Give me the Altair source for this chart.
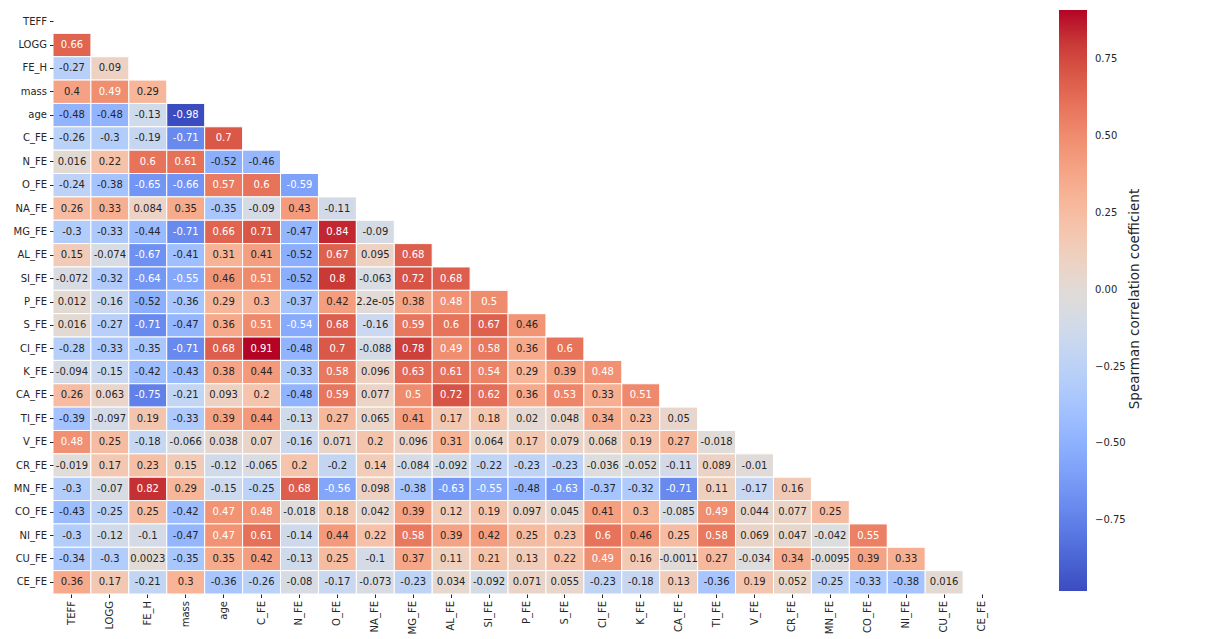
import altair as alt
import pandas as pd
import numpy as np

names = ["TEFF", "LOGG", "FE_H", "mass", "age", "C_FE", "N_FE", "O_FE", "NA_FE",
         "MG_FE", "AL_FE", "SI_FE", "P_FE", "S_FE", "CI_FE", "K_FE", "CA_FE",
         "TI_FE", "V_FE", "CR_FE", "MN_FE", "CO_FE", "NI_FE", "CU_FE", "CE_FE"]

# lower triangle (row i has i values: columns 0..i-1)
lower = [
    [],
    [0.66],
    [-0.27, 0.09],
    [0.4, 0.49, 0.29],
    [-0.48, -0.48, -0.13, -0.98],
    [-0.26, -0.3, -0.19, -0.71, 0.7],
    [0.016, 0.22, 0.6, 0.61, -0.52, -0.46],
    [-0.24, -0.38, -0.65, -0.66, 0.57, 0.6, -0.59],
    [0.26, 0.33, 0.084, 0.35, -0.35, -0.09, 0.43, -0.11],
    [-0.3, -0.33, -0.44, -0.71, 0.66, 0.71, -0.47, 0.84, -0.09],
    [0.15, -0.074, -0.67, -0.41, 0.31, 0.41, -0.52, 0.67, 0.095, 0.68],
    [-0.072, -0.32, -0.64, -0.55, 0.46, 0.51, -0.52, 0.8, -0.063, 0.72, 0.68],
    [0.012, -0.16, -0.52, -0.36, 0.29, 0.3, -0.37, 0.42, 2.2e-05, 0.38, 0.48, 0.5],
    [0.016, -0.27, -0.71, -0.47, 0.36, 0.51, -0.54, 0.68, -0.16, 0.59, 0.6, 0.67, 0.46],
    [-0.28, -0.33, -0.35, -0.71, 0.68, 0.91, -0.48, 0.7, -0.088, 0.78, 0.49, 0.58, 0.36, 0.6],
    [-0.094, -0.15, -0.42, -0.43, 0.38, 0.44, -0.33, 0.58, 0.096, 0.63, 0.61, 0.54, 0.29, 0.39, 0.48],
    [0.26, 0.063, -0.75, -0.21, 0.093, 0.2, -0.48, 0.59, 0.077, 0.5, 0.72, 0.62, 0.36, 0.53, 0.33, 0.51],
    [-0.39, -0.097, 0.19, -0.33, 0.39, 0.44, -0.13, 0.27, 0.065, 0.41, 0.17, 0.18, 0.02, 0.048, 0.34, 0.23, 0.05],
    [0.48, 0.25, -0.18, -0.066, 0.038, 0.07, -0.16, 0.071, 0.2, 0.096, 0.31, 0.064, 0.17, 0.079, 0.068, 0.19, 0.27, -0.018],
    [-0.019, 0.17, 0.23, 0.15, -0.12, -0.065, 0.2, -0.2, 0.14, -0.084, -0.092, -0.22, -0.23, -0.23, -0.036, -0.052, -0.11, 0.089, -0.01],
    [-0.3, -0.07, 0.82, 0.29, -0.15, -0.25, 0.68, -0.56, 0.098, -0.38, -0.63, -0.55, -0.48, -0.63, -0.37, -0.32, -0.71, 0.11, -0.17, 0.16],
    [-0.43, -0.25, 0.25, -0.42, 0.47, 0.48, -0.018, 0.18, 0.042, 0.39, 0.12, 0.19, 0.097, 0.045, 0.41, 0.3, -0.085, 0.49, 0.044, 0.077, 0.25],
    [-0.3, -0.12, -0.1, -0.47, 0.47, 0.61, -0.14, 0.44, 0.22, 0.58, 0.39, 0.42, 0.25, 0.23, 0.6, 0.46, 0.25, 0.58, 0.069, 0.047, -0.042, 0.55],
    [-0.34, -0.3, 0.0023, -0.35, 0.35, 0.42, -0.13, 0.25, -0.1, 0.37, 0.11, 0.21, 0.13, 0.22, 0.49, 0.16, -0.0011, 0.27, -0.034, 0.34, -0.0095, 0.39, 0.33],
    [0.36, 0.17, -0.21, 0.3, -0.36, -0.26, -0.08, -0.17, -0.073, -0.23, 0.034, -0.092, 0.071, 0.055, -0.23, -0.18, 0.13, -0.36, 0.19, 0.052, -0.25, -0.33, -0.38, 0.016],
]

colorbar_ticks = [-0.75, -0.5, -0.25, 0.0, 0.25, 0.5, 0.75]
colorbar_title = ["Spearman correlation coefficient"]

# coolwarm colormap stops
coolwarm = ["#3b4cc0", "#4d68d7", "#6282ea", "#779af7", "#8db0fe", "#a3c2ff",
            "#b8d0f9", "#ccd9ee", "#dddddd", "#ecd3c5", "#f5c4ac", "#f7b193",
            "#f49a7b", "#ec7f63", "#de604d", "#cb3e38", "#b40426"]

recs = []
for i, row in enumerate(lower):
    for j, v in enumerate(row):
        recs.append({"row": names[i], "col": names[j], "v": v, "label": f"{v:.2g}"})
df = pd.DataFrame(recs)

vmin, vmax = df["v"].min(), df["v"].max()
dom = list(np.linspace(vmin, vmax, len(coolwarm)))

F = "DejaVu Sans"
xs = alt.X("col:N", scale=alt.Scale(domain=names, paddingInner=0, paddingOuter=0),
           axis=alt.Axis(title=None, domain=False, tickSize=3.5, labelAngle=270,
                         labelFontSize=10, labelFont=F, labelColor="#262626",
                         tickColor="#262626", labelPadding=3))
ys = alt.Y("row:N", scale=alt.Scale(domain=names, paddingInner=0, paddingOuter=0),
           axis=alt.Axis(title=None, domain=False, tickSize=3.5,
                         labelFontSize=10, labelFont=F, labelColor="#262626",
                         tickColor="#262626", labelPadding=3))

base = alt.Chart(df)
rects = base.mark_rect(stroke="white", strokeWidth=1).encode(
    x=xs, y=ys,
    color=alt.Color("v:Q",
                    scale=alt.Scale(domain=dom, range=coolwarm, interpolate="rgb"),
                    legend=alt.Legend(title=None,
                                      orient="right", offset=58,
                                      direction="vertical",
                                      gradientLength=581, gradientThickness=28,
                                      gradientStrokeWidth=0,
                                      values=colorbar_ticks, format=".2f",
                                      labelFontSize=10, labelFont=F,
                                      labelColor="#262626", labelOverlap=False,
                                      labelOffset=8))
)
texts = base.mark_text(fontSize=10, font=F).encode(
    x=alt.X("col:N"), y=alt.Y("row:N"),
    text="label:N",
    color=alt.condition("datum.v > 0.465 || datum.v < -0.53",
                        alt.value("white"), alt.value("#262626"))
)
cbtitle = alt.Chart(pd.DataFrame({"t": colorbar_title})).mark_text(
    angle=270, fontSize=13.5, font=F, color="#262626", align="center", baseline="middle"
).encode(x=alt.value(1082), y=alt.value(289), text="t:N")

chart = (rects + texts + cbtitle).properties(
    width=948, height=584,
    padding={"left": 5, "top": 2, "right": 5, "bottom": 5},
    background="white",
).configure_view(stroke=None)

chart.save("out.html", embed_options={"renderer": "svg", "actions": False})
